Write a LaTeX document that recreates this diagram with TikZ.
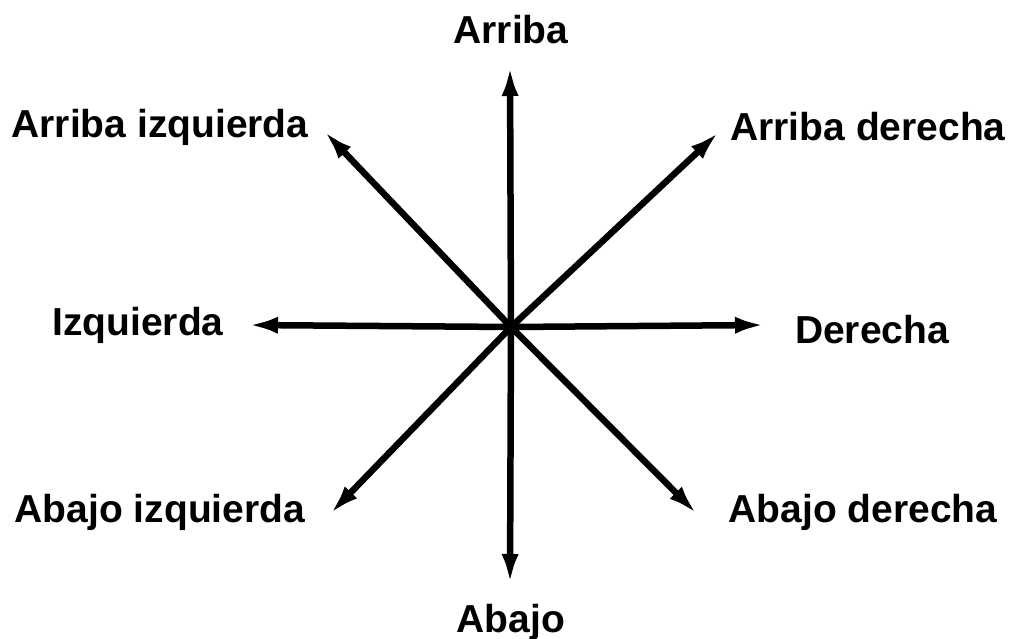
\documentclass[tikz,border=0pt]{standalone}
\usepackage{fontspec}
\setmainfont{Liberation Sans}
\usetikzlibrary{arrows.meta}
\tikzset{
  %% Direction labels
  dirLabel/.style={font=\fontsize{39}{44}\selectfont\bfseries, inner sep=0pt},
  %% Direction arrows
  dirArrow/.style={-{Latex[length=30pt,width=17pt]}, line width=6.5pt},
}
\begin{document}
\begin{tikzpicture}[x=1pt, y=-1pt]
\useasboundingbox (0,0) rectangle (1016,639);

%% Centre and arrow tips
\coordinate (pO)  at (511,327);
\coordinate (tN)  at (510,66);
\coordinate (tS)  at (510,584);
\coordinate (tW)  at (248,325);
\coordinate (tE)  at (765,325);
\coordinate (tNW) at (324,131);
\coordinate (tNE) at (719,132);
\coordinate (tSW) at (330,514);
\coordinate (tSE) at (697,514);

%% Labels
\node[dirLabel] (lN)  at (511,30)  {Arriba};
\node[dirLabel] (lS)  at (511,622) {Abajo};
\node[dirLabel] (lW)  at (138,325) {Izquierda};
\node[dirLabel] (lE)  at (872,330) {Derecha};
\node[dirLabel] (lNW) at (160,127) {Arriba izquierda};
\node[dirLabel] (lNE) at (868,127) {Arriba derecha};
\node[dirLabel] (lSW) at (160,512) {Abajo izquierda};
\node[dirLabel] (lSE) at (863,512) {Abajo derecha};

%% Arrows
\foreach \t in {tN, tS, tW, tE, tNW, tNE, tSW, tSE}
  \draw[dirArrow] (pO) -- (\t);

\end{tikzpicture}
\end{document}
